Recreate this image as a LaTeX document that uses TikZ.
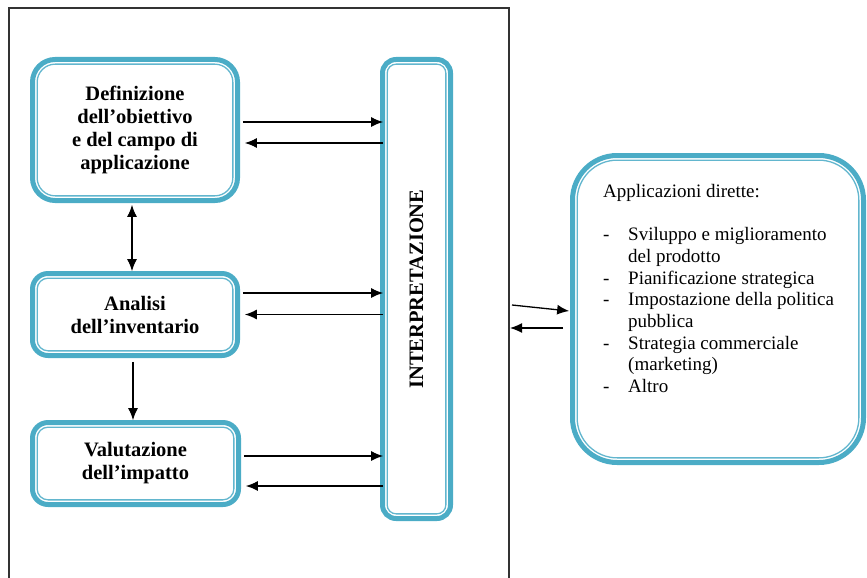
\documentclass[tikz,border=0pt]{standalone}
\usepackage{fontspec}
\setmainfont{Liberation Serif}
\usetikzlibrary{calc,arrows.meta}

\definecolor{boxteal}{HTML}{4BACC6}
\definecolor{boxtealthin}{HTML}{62B6CE}

\tikzset{
  phasebox/.style={draw=boxtealthin, line width=1.3pt, fill=white,
    rounded corners=#1, inner sep=0pt, outer sep=0pt, align=center},
  boldtext/.style={font=\fontsize{20.5}{23}\selectfont\bfseries},
  arr/.style={-{Latex[length=12pt,width=10pt]}, line width=1.3pt, black},
  dblarr/.style={{Latex[length=12pt,width=10pt]}-{Latex[length=12pt,width=10pt]}, line width=1.3pt, black},
  framebox/.style={draw=black!80, line width=1.3pt, inner sep=0pt, outer sep=0pt}
}

\begin{document}
\begin{tikzpicture}[x=1pt, y=-1pt]
\useasboundingbox (0,0) rectangle (867,578);

% outer frame holding the four phases (open at the bottom)
\node[framebox, minimum width=500pt, minimum height=612pt] (frame) at (259,314) {};

% phases of the study
\node[phasebox=18pt, boldtext, minimum width=195.7pt, minimum height=131.7pt] (def) at (135,130)
  {Definizione\\dell'obiettivo\\e del campo di\\applicazione};
\node[phasebox=11pt, boldtext, minimum width=195.7pt, minimum height=72.7pt] (ana) at (135,314.5)
  {Analisi\\dell'inventario};
\node[phasebox=11pt, boldtext, minimum width=196.7pt, minimum height=72.7pt] (val) at (135.5,463.5)
  {Valutazione\\dell'impatto};
\node[phasebox=9pt, boldtext, minimum width=58.7pt, minimum height=449.7pt] (int) at (416.5,289) {};
\node[boldtext, rotate=90] (inttext) at (int.center) {INTERPRETAZIONE};

% direct applications
\node[phasebox=40pt, minimum width=281.7pt, minimum height=297.7pt] (app) at (718,309) {};
\node[anchor=north west, inner sep=0pt, font=\fontsize{19}{21.7}\selectfont] (apptext) at (603,182)
  {\begin{tabular}{@{}p{25pt}@{}l@{}}
    \multicolumn{2}{@{}l@{}}{Applicazioni dirette:}\\
    & \\
    - & Sviluppo e miglioramento\\
      & del prodotto\\
    - & Pianificazione strategica\\
    - & Impostazione della politica\\
      & pubblica\\
    - & Strategia commerciale\\
      & (marketing)\\
    - & Altro
  \end{tabular}};

% thick outer rim of the double border
\foreach \n/\r in {def/22.6, ana/15.6, val/15.6, int/13.6, app/44.6} {
  \draw[boxteal, line width=5pt, rounded corners=\r pt]
    ($(\n.south west)+(-4.65pt,-4.65pt)$) rectangle ($(\n.north east)+(4.65pt,4.65pt)$);
}

% exchanges with the interpretation phase
\draw[arr] ($(def.east)+(10pt,8pt)$) -- ($(int.west |- def.east)+(-4pt,8pt)$);
\draw[arr] ($(int.west |- def.east)+(-4pt,-13pt)$) -- ($(def.east)+(12pt,-13pt)$);
\draw[arr] ($(ana.east)+(10pt,21.5pt)$) -- ($(int.west |- ana.east)+(-4pt,21.5pt)$);
\draw[arr] ($(int.west |- ana.east)+(-4pt,0pt)$) -- ($(ana.east)+(12pt,0pt)$);
\draw[arr] ($(val.east)+(10pt,7.5pt)$) -- ($(int.west |- val.east)+(-4pt,7.5pt)$);
\draw[arr] ($(int.west |- val.east)+(-4pt,-22.5pt)$) -- ($(val.east)+(12pt,-22.5pt)$);

% links between phases
\draw[dblarr] ($(def.south)+(-3pt,-9pt)$) -- ($(ana.north)+(-3pt,7pt)$);
\draw[arr] ($(ana.south)+(-2pt,-11pt)$) -- ($(val.north)+(-2.5pt,7pt)$);

% links to the applications
\draw[arr] ($(frame.east |- app.west)+(3pt,4pt)$) -- ($(app.west)+(-8pt,-2pt)$);
\draw[arr] ($(app.west)+(-14pt,-19pt)$) -- ($(frame.east |- app.west)+(1pt,-19pt)$);
\end{tikzpicture}
\end{document}
